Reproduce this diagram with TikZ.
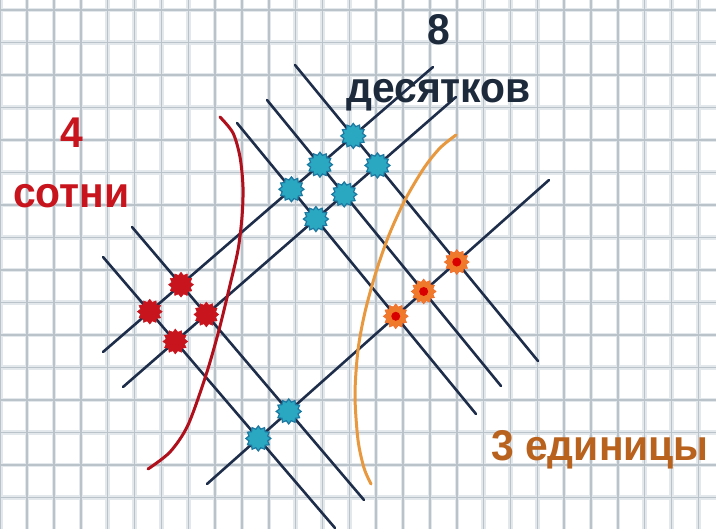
\documentclass[tikz,border=0pt]{standalone}
\usepackage{fontspec}
\setmainfont{Liberation Sans}
\newfontfamily\lblfont[FakeStretch=0.95]{Liberation Sans}
\usetikzlibrary{shapes.geometric}

\definecolor{gridgray}{HTML}{BAC2CA}
\definecolor{gridhalo}{HTML}{E3E8EC}
\definecolor{linenavy}{HTML}{1E2E4A}
\definecolor{hundredred}{HTML}{C8141C}
\definecolor{tenscyan}{HTML}{2AA8C2}
\definecolor{tensedge}{HTML}{1C78A0}
\definecolor{unitorange}{HTML}{F07A2C}
\definecolor{unitbrown}{HTML}{B8621E}
\definecolor{curvered}{HTML}{B0101C}
\definecolor{curveorange}{HTML}{E8983E}
\definecolor{textnavy}{HTML}{1C2A3C}

\begin{document}
\begin{tikzpicture}[x=1pt, y=-1pt,
    gridhaloln/.style={draw=gridhalo, line width=4.5pt},
    gridln/.style={draw=gridgray, line width=1.5pt},
    digitline/.style={draw=linenavy, line width=2.6pt, line cap=round},
    groupcurve/.style={line width=3pt, line cap=round},
    cross/.style={star, star points=12, star point ratio=1.3, minimum size=25pt, inner sep=0pt},
    hundredmark/.style={cross, fill=hundredred, draw=hundredred},
    tenmark/.style={cross, fill=tenscyan, draw=tensedge, line width=1.2pt},
    unitmark/.style={cross, fill=unitorange, draw=unitorange!80!red, path picture={\fill[red!85!black] (path picture bounding box.center) circle (4.5pt);}},
    lbl/.style={font=\lblfont\bfseries\fontsize{43}{48}\selectfont, inner sep=0pt}
]
\useasboundingbox (0,0) rectangle (716,529);
\fill[white] (0,0) rectangle (716,529);
% squared paper
\foreach \i in {0,...,26}
  \draw[gridhaloln] ({0.3+26.85*\i},0) -- ++(0,529);
\foreach \j in {0,...,15}
  \draw[gridhaloln] (0,{10+32.5*\j}) -- ++(716,0);
\foreach \i in {0,...,26}
  \draw[gridln] ({0.3+26.85*\i},0) -- ++(0,529);
\foreach \j in {0,...,15}
  \draw[gridln] (0,{10+32.5*\j}) -- ++(716,0);

% first factor 21: lines going up to the right
\coordinate (u1s) at (103,352); \coordinate (u1e) at (433,67);
\coordinate (u2s) at (123,387); \coordinate (u2e) at (456,97);
\coordinate (u3s) at (207,484); \coordinate (u3e) at (549,180);
% second factor 23: lines going down to the right
\coordinate (d1s) at (132,227); \coordinate (d1e) at (364,500);
\coordinate (d2s) at (103,257); \coordinate (d2e) at (335,528);
\coordinate (d3s) at (237,123); \coordinate (d3e) at (476,414);
\coordinate (d4s) at (267,100); \coordinate (d4e) at (501,386);
\coordinate (d5s) at (295,65);  \coordinate (d5e) at (538,361);

\draw[digitline] (u1s) -- (u1e);
\draw[digitline] (u2s) -- (u2e);
\draw[digitline] (u3s) -- (u3e);
\draw[digitline] (d1s) -- (d1e);
\draw[digitline] (d2s) -- (d2e);
\draw[digitline] (d3s) -- (d3e);
\draw[digitline] (d4s) -- (d4e);
\draw[digitline] (d5s) -- (d5e);

% group borders
\draw[groupcurve, curvered] plot[smooth] coordinates {(220,117) (233,133) (240,157) (243,187) (242,217) (238,250) (230,285) (219,330) (206,375) (188,425) (170,452) (148,469)};
\draw[groupcurve, curveorange] plot[smooth] coordinates {(456,135) (440,148) (424,168) (405,200) (389,235) (376,272) (365,312) (358,350) (355,395) (358,440) (364,468) (371,484)};

% crossings
\node[hundredmark] (h11) at (intersection of u1s--u1e and d1s--d1e) {};
\node[hundredmark] (h12) at (intersection of u1s--u1e and d2s--d2e) {};
\node[hundredmark] (h21) at (intersection of u2s--u2e and d1s--d1e) {};
\node[hundredmark] (h22) at (intersection of u2s--u2e and d2s--d2e) {};
\node[tenmark] (t13) at (intersection of u1s--u1e and d3s--d3e) {};
\node[tenmark] (t14) at (intersection of u1s--u1e and d4s--d4e) {};
\node[tenmark] (t15) at (intersection of u1s--u1e and d5s--d5e) {};
\node[tenmark] (t23) at (intersection of u2s--u2e and d3s--d3e) {};
\node[tenmark] (t24) at (intersection of u2s--u2e and d4s--d4e) {};
\node[tenmark] (t25) at (intersection of u2s--u2e and d5s--d5e) {};
\node[tenmark] (t31) at (intersection of u3s--u3e and d1s--d1e) {};
\node[tenmark] (t32) at (intersection of u3s--u3e and d2s--d2e) {};
\node[unitmark] (e33) at (intersection of u3s--u3e and d3s--d3e) {};
\node[unitmark] (e34) at (intersection of u3s--u3e and d4s--d4e) {};
\node[unitmark] (e35) at (intersection of u3s--u3e and d5s--d5e) {};

% labels
\node[lbl, text=hundredred, anchor=base] (hundnum) at (72,148) {4};
\node[lbl, text=hundredred, anchor=base west] (hundword) at (13,208) {сотни};
\node[lbl, text=textnavy, anchor=base] (tensnum) at (439,45) {8};
\node[lbl, text=textnavy, anchor=base west] (tensword) at (346,103) {десятков};
\node[lbl, text=unitbrown, anchor=base west] (unitword) at (491,461) {3 единицы};
\end{tikzpicture}
\end{document}
